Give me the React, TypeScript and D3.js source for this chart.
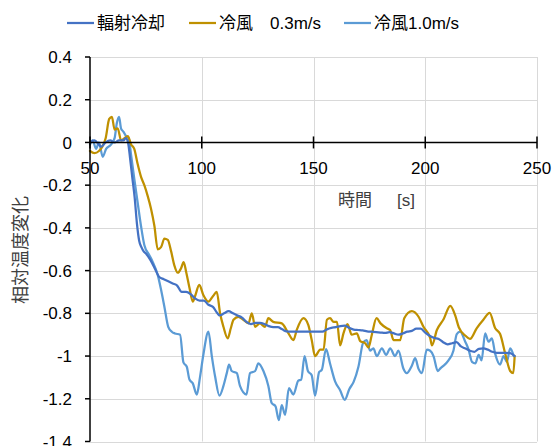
import React, { useEffect, useRef } from "react";
import * as d3 from "d3";

const width = 553;
const height = 446;
const margin = { top: 57, right: 16, bottom: 4.5, left: 90 };

const font = "'Liberation Sans', 'Noto Sans CJK JP', sans-serif";

// 輻射冷却
const radTime = [50, 52, 54, 55, 57, 59, 61, 63, 65, 66, 67, 68, 69, 70, 71, 72, 73, 74, 75, 77, 79, 81, 83, 85, 87, 89, 91, 93, 95, 97, 99, 101, 103, 105, 107, 108, 110, 112, 114, 116, 118, 120, 122, 124, 126, 128, 130, 132, 134, 136, 138, 140, 142, 144, 146, 148, 150, 152, 154, 156, 158, 160, 162, 164, 166, 168, 170, 172, 174, 176, 178, 180, 182, 184, 186, 188, 190, 192, 194, 196, 198, 200, 202, 204, 206, 208, 210, 212, 214, 216, 218, 220, 222, 224, 226, 228, 230, 232, 234, 236, 238, 240];
const radValue = [0.0, 0.01, -0.01, -0.02, 0.0, 0.01, 0.0, 0.01, 0.01, 0.02, 0.0, -0.08, -0.17, -0.26, -0.38, -0.46, -0.49, -0.51, -0.52, -0.55, -0.59, -0.63, -0.64, -0.65, -0.66, -0.67, -0.7, -0.7, -0.71, -0.73, -0.74, -0.74, -0.76, -0.77, -0.8, -0.81, -0.8, -0.79, -0.8, -0.81, -0.82, -0.84, -0.85, -0.845, -0.845, -0.85, -0.86, -0.865, -0.865, -0.875, -0.885, -0.886, -0.886, -0.886, -0.886, -0.886, -0.886, -0.886, -0.886, -0.875, -0.868, -0.865, -0.86, -0.858, -0.868, -0.876, -0.878, -0.88, -0.884, -0.886, -0.888, -0.89, -0.892, -0.888, -0.894, -0.9, -0.894, -0.886, -0.882, -0.872, -0.872, -0.89, -0.905, -0.915, -0.92, -0.935, -0.945, -0.94, -0.935, -0.955, -0.965, -0.975, -0.98, -0.966, -0.964, -0.97, -0.98, -0.985, -0.985, -0.985, -0.986, -1.0];

// 冷風 0.3m/s
const slowTime = [50, 52, 54, 55.5, 57, 58.6, 59.8, 61, 62.4, 63.9, 65.4, 66.9, 68.4, 69.8, 71.3, 72.8, 74.3, 75.8, 77.3, 78.8, 80.3, 81.8, 83.3, 84.8, 86.3, 87.7, 89.3, 90.7, 91.9, 93, 94.5, 96, 97, 98.9, 100.7, 103, 105, 106.7, 108.2, 109.7, 111.6, 113, 114.2, 116.4, 118.6, 120.9, 122.4, 123.9, 126, 128.3, 129.8, 132, 135.8, 138.8, 141, 142.5, 145.5, 147.7, 149.2, 150.7, 153, 154.5, 156, 157.4, 159, 160.5, 161.9, 163.4, 165.2, 167.1, 169.4, 170.9, 173.1, 174.6, 176.1, 178.2, 180, 182.8, 184.3, 185.8, 188.8, 190.6, 194, 197, 199.2, 202.2, 203, 205.2, 208.2, 211.2, 213.4, 215, 218, 220, 223, 226, 228.8, 231.3, 233.5, 235.8, 238, 239.4, 240];
const slowValue = [-0.04, -0.05, -0.04, -0.02, 0.02, 0.11, 0.12, 0.06, 0.066, 0.01, 0.02, 0.03, -0.01, -0.03, -0.1, -0.16, -0.2, -0.25, -0.31, -0.39, -0.5, -0.49, -0.45, -0.456, -0.51, -0.574, -0.61, -0.59, -0.56, -0.605, -0.68, -0.745, -0.72, -0.667, -0.714, -0.745, -0.72, -0.7, -0.8, -0.863, -0.917, -0.87, -0.83, -0.816, -0.83, -0.847, -0.8, -0.863, -0.847, -0.863, -0.823, -0.84, -0.847, -0.894, -0.925, -0.878, -0.823, -0.855, -0.925, -1.0, -0.97, -0.97, -0.83, -0.823, -0.84, -0.84, -0.95, -0.894, -0.85, -0.9, -0.894, -0.93, -0.94, -0.96, -0.9, -0.823, -0.847, -0.87, -0.878, -0.925, -0.925, -0.823, -0.79, -0.816, -0.863, -0.915, -0.95, -0.878, -0.828, -0.765, -0.81, -0.865, -0.905, -0.92, -0.87, -0.83, -0.798, -0.87, -0.897, -0.99, -1.07, -1.08, -1.0];

// 冷風1.0m/s
const fastTime = [50, 51.2, 52.7, 54, 55.7, 57.2, 59.4, 61, 62, 63, 63.9, 65, 66.1, 67.3, 68.4, 69.8, 71.3, 72.8, 74.3, 76.5, 78, 80.3, 81.8, 83.3, 85, 86.6, 88, 90.3, 91.8, 93.3, 94.5, 96, 97.8, 99.2, 100.7, 103, 104.5, 106, 107.9, 109.7, 111.2, 112.2, 113.4, 115.7, 117.1, 120, 121.6, 123.9, 125.3, 127.6, 129.8, 131.3, 133, 134.5, 135.8, 137.3, 139, 141, 143.2, 144.5, 146, 147.5, 149.2, 150.7, 152.5, 153.7, 155.6, 157.4, 159.7, 161.9, 164, 166, 168, 170.1, 172.3, 173.8, 175.3, 176.8, 178.3, 180.6, 182.5, 184.3, 186.5, 188, 190.2, 191.7, 194, 195.5, 197, 198.5, 200.7, 202.2, 203.7, 205.6, 207, 208.2, 210.4, 212.6, 214.1, 215.6, 217.9, 219.4, 220.9, 222.4, 223.9, 225.2, 226.8, 228.3, 229.8, 231.3, 233.5, 235, 236.5, 238, 239.6];
const fastValue = [-0.01, 0.01, -0.03, 0.0, -0.067, -0.03, -0.01, 0.02, 0.09, 0.12, 0.065, 0.05, 0.03, 0.02, -0.06, -0.17, -0.28, -0.39, -0.48, -0.527, -0.558, -0.62, -0.69, -0.77, -0.863, -0.886, -0.894, -0.9, -1.03, -1.05, -1.11, -1.128, -1.18, -1.1, -0.995, -0.886, -1.0, -1.097, -1.185, -1.14, -1.08, -1.04, -1.07, -1.08, -1.14, -1.18, -1.08, -1.07, -1.034, -1.07, -1.14, -1.22, -1.235, -1.3, -1.23, -1.275, -1.15, -1.18, -1.115, -1.11, -1.0, -1.07, -1.09, -1.185, -1.075, -1.065, -0.967, -1.035, -1.12, -1.16, -1.205, -1.155, -1.12, -1.05, -0.935, -0.925, -0.975, -0.964, -1.0, -0.964, -0.995, -0.964, -1.0, -0.975, -1.058, -1.08, -1.045, -1.01, -1.06, -1.08, -0.97, -0.975, -1.0, -1.07, -1.055, -1.045, -1.02, -0.975, -0.897, -0.886, -0.933, -0.97, -1.027, -1.034, -0.995, -1.02, -0.894, -0.933, -0.917, -0.99, -1.04, -1.0, -1.027, -0.964, -1.0];

const xTicks = [50, 100, 150, 200, 250];
const yTicks = [0.4, 0.2, 0, -0.2, -0.4, -0.6, -0.8, -1, -1.2, -1.4];

const seriesNames = ["輻射冷却", "冷風　0.3m/s", "冷風1.0m/s"];
const seriesColors = ["#4472C4", "#BF9000", "#5B9BD5"];

export default function App() {
    const ref = useRef<SVGSVGElement>(null);

    useEffect(() => {
        const svg = d3.select(ref.current);
        svg.selectAll("*").remove();

        const x = d3.scaleLinear().domain([50, 250]).range([margin.left, width - margin.right]);
        const y = d3.scaleLinear().domain([-1.4, 0.4]).range([height - margin.bottom, margin.top]);

        // gridlines
        const grid = svg.append("g").attr("stroke", "#D9D9D9").attr("stroke-width", 1);
        yTicks.forEach(v => {
            grid.append("line")
                .attr("x1", x(50)).attr("x2", x(250))
                .attr("y1", Math.round(y(v)) + 0.5).attr("y2", Math.round(y(v)) + 0.5);
        });
        xTicks.slice(1).forEach(t => {
            grid.append("line")
                .attr("x1", Math.round(x(t)) + 0.5).attr("x2", Math.round(x(t)) + 0.5)
                .attr("y1", y(0.4)).attr("y2", y(-1.4));
        });

        // series
        const series = [
            { t: radTime, v: radValue },
            { t: slowTime, v: slowValue },
            { t: fastTime, v: fastValue },
        ];
        const line = d3.line<[number, number]>()
            .x(d => x(d[0]))
            .y(d => y(d[1]))
            .curve(d3.curveMonotoneX);

        [2, 1, 0].forEach(i => {
            const pts: [number, number][] = series[i].t.map((t, j) => [t, series[i].v[j]]);
            svg.append("path")
                .attr("d", line(pts))
                .attr("fill", "none")
                .attr("stroke", seriesColors[i])
                .attr("stroke-width", 2.25)
                .attr("stroke-linejoin", "round")
                .attr("stroke-linecap", "round");
        });

        // y axis
        const yAxis = svg.append("g");
        yAxis.append("line")
            .attr("x1", x(50)).attr("x2", x(50))
            .attr("y1", y(0.4)).attr("y2", y(-1.4))
            .attr("stroke", "#000").attr("stroke-width", 1.5);
        yTicks.forEach(v => {
            yAxis.append("line")
                .attr("x1", x(50) - 5).attr("x2", x(50))
                .attr("y1", y(v)).attr("y2", y(v))
                .attr("stroke", "#000").attr("stroke-width", 1.5);
            yAxis.append("text")
                .attr("x", 72).attr("y", y(v))
                .attr("dy", "0.36em")
                .attr("text-anchor", "end")
                .attr("font-family", font).attr("font-size", 17)
                .attr("fill", "#000")
                .text(String(+v.toFixed(1)));
        });

        // x axis at y = 0
        const xAxis = svg.append("g");
        xAxis.append("line")
            .attr("x1", x(50)).attr("x2", x(250))
            .attr("y1", y(0)).attr("y2", y(0))
            .attr("stroke", "#000").attr("stroke-width", 1.5);
        xTicks.forEach(t => {
            xAxis.append("line")
                .attr("x1", x(t)).attr("x2", x(t))
                .attr("y1", y(0) - 6).attr("y2", y(0) + 6)
                .attr("stroke", "#000").attr("stroke-width", 1.5);
            xAxis.append("text")
                .attr("x", x(t)).attr("y", y(0) + 32)
                .attr("text-anchor", "middle")
                .attr("font-family", font).attr("font-size", 17)
                .attr("fill", "#000")
                .text(t);
        });

        // axis titles
        const xTitle = svg.append("text")
            .attr("y", 206)
            .attr("font-family", font).attr("font-size", 17)
            .attr("fill", "#404040");
        xTitle.append("tspan").attr("x", 338).text("時間");
        xTitle.append("tspan").attr("x", 397).text("[s]");

        svg.append("text")
            .attr("transform", `translate(27,250) rotate(-90)`)
            .attr("text-anchor", "middle")
            .attr("font-family", font).attr("font-size", 18)
            .attr("fill", "#404040")
            .text("相対温度変化");

        // legend
        const legendX = [67, 189, 344];
        const legend = svg.append("g");
        seriesNames.forEach((name, i) => {
            legend.append("line")
                .attr("x1", legendX[i]).attr("x2", legendX[i] + 27)
                .attr("y1", 23).attr("y2", 23)
                .attr("stroke", seriesColors[i]).attr("stroke-width", 2.25);
            legend.append("text")
                .attr("x", legendX[i] + 30).attr("y", 23)
                .attr("dy", "0.36em")
                .attr("font-family", font).attr("font-size", 17)
                .attr("fill", "#000")
                .attr("xml:space", "preserve")
                .text(name);
        });
    }, []);

    return (
        <svg
            ref={ref}
            width={width}
            height={height}
            style={{ position: "absolute", left: 0, top: 0, background: "#fff" }}
        />
    );
}
